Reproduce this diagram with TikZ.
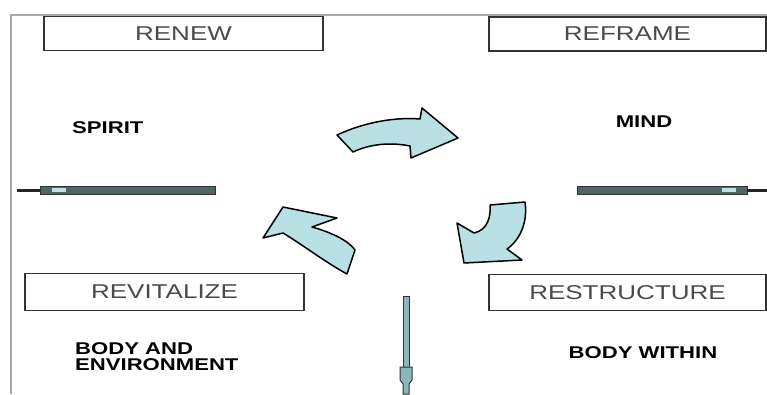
\documentclass[tikz,border=0pt]{standalone}
\usepackage{fontspec}
\setmainfont{Liberation Sans}
\newfontfamily\heavyfont{Liberation Sans Bold}
\usetikzlibrary{positioning}

\definecolor{arrowblue}{HTML}{B9E0E3}
\definecolor{boxtext}{HTML}{4A4A4A}
\definecolor{framegray}{HTML}{A8A8A8}
\definecolor{barfill}{HTML}{4E6666}
\definecolor{shaftblue}{HTML}{8DB8BB}
\definecolor{glint}{HTML}{B8E2E6}

\tikzset{
    titlebox/.style={draw=black!80, line width=1.5pt, minimum height=35pt, inner sep=0pt,
        text=boxtext, font=\fontsize{20}{24}\selectfont},
    wordlabel/.style={font=\heavyfont\fontsize{17}{16}\selectfont, inner sep=0pt, align=left},
    blockarrow/.style={fill=arrowblue, draw=black, line width=1.5pt, line join=round},
    flatbar/.style={fill=barfill, draw=black!80, line width=1pt},
}

\begin{document}
\begin{tikzpicture}[x=1pt, y=-1pt]
    \useasboundingbox (0,0) rectangle (767,394);
    % frame
    \draw[framegray, line width=1.2pt](11,394) -- (11,15) -- (767,15);
    % title boxes
    \node[titlebox, minimum width=279pt, minimum height=34pt] (renew) at (183.5,33.5){\scalebox{1.3}[1]{RENEW}};
    \node[titlebox, minimum width=277pt, minimum height=34pt] (reframe) at (627.5,34){\scalebox{1.3}[1]{REFRAME}};
    \node[titlebox, minimum width=279pt, minimum height=37pt] (revitalize) at (164.5,292){\scalebox{1.3}[1]{REVITALIZE}};
    \node[titlebox, minimum width=277pt, minimum height=36pt] (restructure) at (627.5,292.5){\scalebox{1.3}[1]{RESTRUCTURE}};
    % words
    \node[wordlabel, anchor=west] (spirit) at (72,128){\scalebox{1.3}[1]{SPIRIT}};
    \node[wordlabel] (mind) at (644,122){\scalebox{1.3}[1]{MIND}};
    \node[wordlabel, anchor=west] (bodyenv) at (75,357){\scalebox{1.3}[1]{BODY AND}\\\scalebox{1.3}[1]{ENVIRONMENT}};
    \node[wordlabel] (bodywithin) at (643,353){\scalebox{1.3}[1]{BODY WITHIN}};
    % flat bars
    \draw[black!85, line width=3pt](17,190) -- (40,190);
    \draw[flatbar](40,186) rectangle (215,194);
    \fill[glint](52,188) rectangle (66,192);
    \draw[flatbar](577,186) rectangle (747,194);
    \fill[glint](722,188) rectangle (736,192);
    \draw[black!85, line width=3pt](747,190) -- (767,190);
    % curved arrows
    \draw[blockarrow](337,135) .. controls (365,122) and (395,117) .. (420,119) -- (422,108) -- (458,138)
        -- (411,158) -- (410,146) .. controls (390,142) and (370,144) .. (353,152) -- cycle;
    \draw[blockarrow](490,205) -- (525,202) .. controls (528,222) and (520,240) .. (507,249) -- (522,260)
        -- (464,263) -- (457,223) -- (474,233) .. controls (488,230) and (491,216) .. (490,205) -- cycle;
    \draw[blockarrow](263,238) -- (283,207) -- (337,218) -- (312,227) .. controls (330,232) and (348,240) .. (355,250)
        -- (347,274) .. controls (325,262) and (300,243) .. (283,233) -- cycle;
    % down arrow
    \draw[fill=shaftblue, draw=black!80, line width=1pt](403,296) rectangle (409,367);
    \draw[fill=shaftblue, draw=black!80, line width=1pt](400,367) -- (412,367) -- (412,380) -- (409,384)
        -- (409,394) -- (403,394) -- (403,384) -- (400,380) -- cycle;
\end{tikzpicture}
\end{document}
